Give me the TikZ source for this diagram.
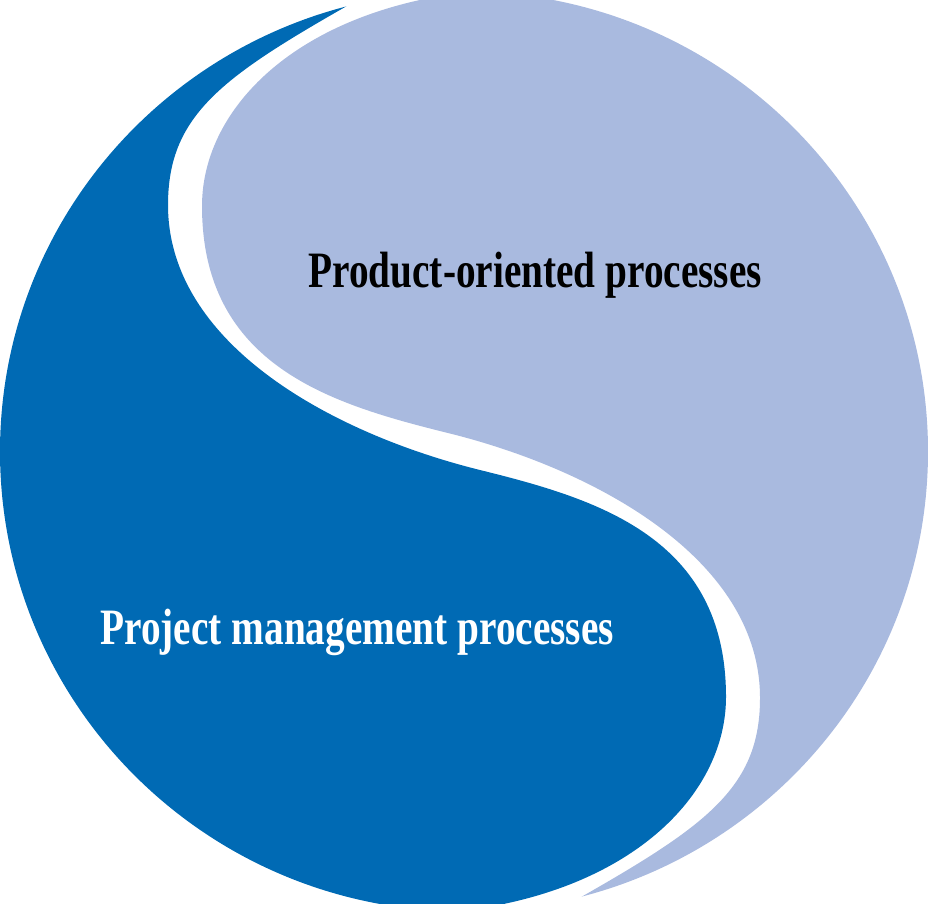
\documentclass[tikz,border=0pt]{standalone}
\usepackage{fontspec}
\setmainfont{Liberation Serif}
\usepackage{tikz}
\usetikzlibrary{calc}
\definecolor{projblue}{RGB}{0,106,180}
\definecolor{prodblue}{RGB}{169,186,223}
\newcommand{\swave}{
  (400,-24) .. controls (234.7,69.1) and (168,105) .. (168,205)
  .. controls (168,345) and (334.5,434) .. (480,470)
  .. controls (596.4,498.8) and (726,537) .. (726,697)
  .. controls (726,805) and (610,912) .. (400,915)
}
\tikzset{
  project/.style={fill=projblue},
  product/.style={fill=prodblue},
  caption/.style={font=\bfseries\fontsize{14.5}{17}\selectfont,anchor=base west,
    inner sep=0pt,xscale=0.77,transform shape}
}

\begin{document}
\begin{tikzpicture}[x=0.01cm,y=-0.01cm]
      \useasboundingbox (0,0) rectangle (928,903);
      \coordinate (C) at (464,451.5);

      \begin{scope}
        \clip (C) ellipse [x radius=464,y radius=460];
        \fill[project] \swave -- (400,960) -- (-60,960) -- (-60,-60) -- (400,-60) -- cycle;
        \fill[product,rotate around={180:(C)}] \swave -- (400,960) -- (-60,960) -- (-60,-60) -- (400,-60) -- cycle;
      \end{scope}

      \node[caption,text=black] (prod) at (308,287) {Product-oriented processes};
      \node[caption,text=white] (proj) at (100,644) {Project management processes};
    \end{tikzpicture}
\end{document}
